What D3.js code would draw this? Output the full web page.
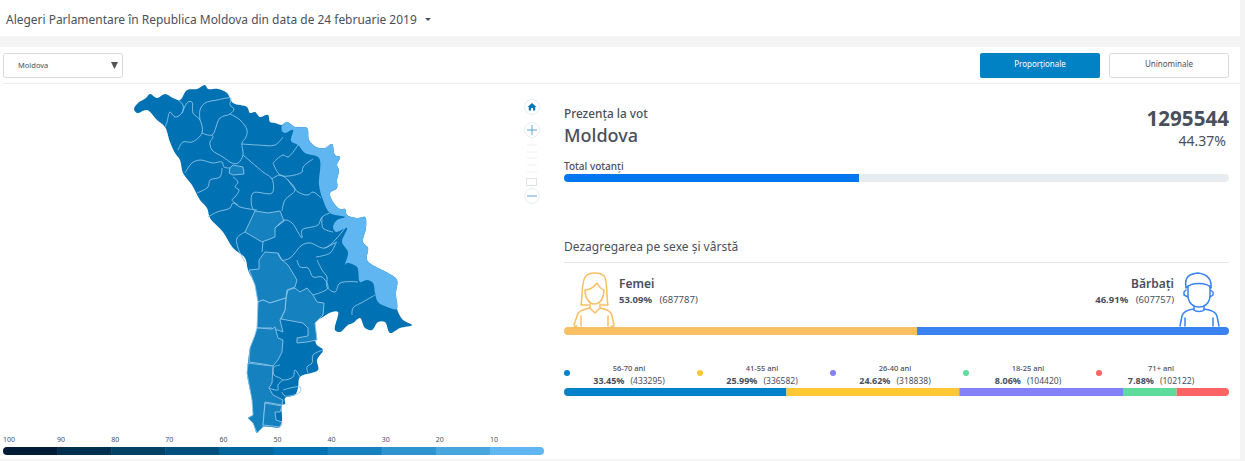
<!DOCTYPE html>
<html lang="ro">
<head>
<meta charset="UTF-8">
<title>Alegeri Parlamentare</title>
<script src="https://d3js.org/d3.v7.min.js"></script>
<style>
*{padding:0;margin:0;box-sizing:border-box;}
body{background:#fff;overflow:hidden;}
text{font-family:"Noto Sans","Open Sans",sans-serif;fill:#4a4f5c;}
.border{fill:none;stroke:#8cc5ea;stroke-width:.9;stroke-linejoin:round;}
.icon{fill:none;stroke-width:1.5;stroke-linecap:round;stroke-linejoin:round;}
</style>
</head>
<body>
<script>
// values
const title = "Alegeri Parlamentare în Republica Moldova din data de 24 februarie 2019";
const turnoutPct = 44.37, turnoutVotes = 1295544;
const genderNames = ["Femei", "Bărbaţi"];
const genderPct = [53.09, 46.91];
const genderVotes = [687787, 607757];
const genderColors = ["#f9bf63", "#3a82f0"];
const ageNames = ["56-70 ani", "41-55 ani", "26-40 ani", "18-25 ani", "71+ ani"];
const agePct = [33.45, 25.99, 24.62, 8.06, 7.88];
const ageVotes = [433295, 336582, 318838, 104420, 102122];
const ageColors = ["#0082c8", "#ffc733", "#8480f7", "#5fdc9b", "#fa6464"];
const legendTicks = [100, 90, 80, 70, 60, 50, 40, 30, 20, 10];
const legendColors = ["#001c36", "#00304f", "#004166", "#004f7f", "#00669c", "#0071b2", "#1581bf", "#2e94d0", "#47a6dc", "#5fb6f0"];

// map outlines traced by hand, in trace units
const countryOutline = [[134,109],[138,103],[146,98],[150,94],[157,98],[165,94],[173,98],[180,100],[187,90],[197,89],[205,85],[208,89],[218,89],[227,93],[233,103],[247,107],[250,113],[255,112],[260,117],[268,115],[270,122],[275,123],[282,125],[287,122],[295,127],[307,128],[309,140],[316,147],[325,148],[332,144],[335,155],[340,157],[337,165],[339,170],[337,180],[337,188],[330,193],[333,202],[340,209],[345,209],[347,215],[358,218],[365,217],[366,228],[363,242],[368,248],[367,260],[378,268],[388,273],[397,280],[396,293],[397,309],[403,320],[412,325],[400,328],[390,333],[385,322],[378,322],[372,330],[365,328],[360,318],[353,323],[348,325],[340,332],[335,330],[338,312],[332,312],[323,317],[315,323],[315,340],[317,345],[323,350],[317,360],[318,370],[300,377],[298,388],[295,395],[285,398],[285,404],[282,405],[282,420],[280,427],[263,427],[257,433],[253,423],[248,418],[253,415],[252,400],[247,373],[248,363],[250,348],[257,330],[258,302],[255,285],[248,270],[245,258],[233,248],[223,232],[210,218],[207,208],[200,200],[192,185],[183,173],[180,160],[175,153],[170,142],[165,127],[157,120],[147,110],[137,113]];
const transnistria = [[282,125],[287,122],[295,127],[307,128],[309,140],[316,147],[325,148],[332,144],[335,155],[340,157],[337,165],[339,170],[337,180],[337,188],[330,193],[333,202],[340,209],[345,209],[347,215],[358,218],[365,217],[366,228],[363,242],[368,248],[367,260],[378,268],[388,273],[397,280],[396,293],[397,309],[387,307],[378,302],[375,293],[373,283],[367,280],[360,282],[357,267],[347,263],[345,265],[348,252],[342,242],[347,228],[336,232],[333,227],[337,220],[345,217],[330,213],[323,200],[319,185],[319,158],[305,153],[298,145],[291,141],[293,130],[285,133],[282,131]];
const midRegions = [
  [[255,211],[268,213],[280,211],[284,221],[275,228],[275,237],[262,242],[245,232]],
  [[230,168],[233,165],[243,167],[244,174],[233,175],[229,173]],
  [[249,270],[259,269],[259,260],[265,252],[278,253],[282,260],[288,265],[297,280],[295,287],[287,290],[286,298],[270,303],[263,300],[258,302],[255,285]],
  [[288,290],[295,288],[300,292],[307,288],[313,295],[317,302],[324,303],[323,315],[315,323],[317,340],[307,342],[297,343],[297,338],[308,336],[308,328],[303,323],[281,319],[285,310],[286,298]],
  [[258,302],[263,300],[270,303],[286,298],[285,310],[280,320],[283,332],[278,330],[273,330],[272,328],[257,328]],
  [[257,328],[272,329],[275,327],[278,338],[283,340],[282,352],[278,360],[273,366],[263,364],[249,362],[250,348],[255,335]],
  [[248,363],[263,365],[273,366],[272,383],[269,388],[273,395],[283,400],[282,405],[265,402],[263,427],[257,433],[253,423],[248,418],[253,415],[252,400],[247,373]],
  [[265,403],[282,406],[280,412],[275,412],[276,420],[282,422],[280,427],[263,425]]
];
const borders = [
  [[178,100],[183,105],[182,113],[175,117],[170,112],[167,122],[165,127]],
  [[182,113],[188,102],[192,102],[193,113],[200,120],[202,133],[192,142],[183,142],[178,150]],
  [[200,120],[200,110],[205,103],[217,100],[227,98],[231,98],[230,105],[234,109],[230,114],[220,118],[212,135],[202,133]],
  [[230,114],[240,120],[247,130],[246,137],[242,143],[243,155],[238,163],[232,163],[223,157],[212,150],[210,142],[213,137],[212,135]],
  [[185,173],[192,163],[200,160],[213,163],[222,162],[224,167],[230,168]],
  [[222,168],[220,177],[210,180],[208,187],[197,193]],
  [[233,177],[238,182],[235,187],[239,190],[235,197],[232,200],[238,205]],
  [[208,217],[217,212],[230,208],[233,203],[240,207],[257,210]],
  [[242,144],[258,145],[275,145],[283,137]],
  [[243,155],[263,172],[272,179],[272,193],[253,193],[252,207],[255,211]],
  [[272,179],[280,175],[288,180],[295,190],[285,200],[282,211]],
  [[273,163],[283,155],[288,157],[298,145]],
  [[273,163],[280,175],[289,176],[302,172],[303,167],[313,159]],
  [[288,180],[298,192],[308,195],[313,192],[321,198]],
  [[275,228],[285,220],[292,223],[302,238],[302,230],[318,225],[322,217],[330,213]],
  [[322,217],[323,228],[333,232]],
  [[263,242],[262,252]],
  [[278,253],[282,260],[290,258],[302,245],[310,243],[325,248],[345,228]],
  [[325,248],[337,242]],
  [[316,257],[330,253],[336,243]],
  [[245,232],[237,238],[238,248],[245,262]],
  [[297,260],[300,267],[308,268],[313,277],[322,277],[328,288],[313,295]],
  [[317,260],[322,270],[327,277],[327,287],[335,292],[340,283],[358,282]],
  [[375,295],[363,302],[353,308],[352,315]],
  [[280,365],[274,367],[274,375],[280,378],[283,380],[293,377],[295,370],[300,377]],
  [[283,380],[278,385],[278,390],[269,388]],
  [[283,390],[300,387],[300,392],[285,396],[282,392]],
  [[323,350],[313,355],[312,363],[307,367],[308,373]]
];

const svg = d3.select("body").append("svg").attr("width", 1245).attr("height", 461);

// page furniture
svg.append("rect").attr("width", 1245).attr("height", 461).attr("fill", "#fff");
svg.append("rect").attr("y", 36).attr("width", 1245).attr("height", 11).attr("fill", "#f4f4f4");
svg.append("rect").attr("x", 1240).attr("width", 5).attr("height", 461).attr("fill", "#f4f4f4");
svg.append("rect").attr("y", 459).attr("width", 1245).attr("height", 2).attr("fill", "#f4f4f4");
svg.append("rect").attr("width", 1240).attr("height", 36).attr("fill", "#fff");
svg.append("line").attr("x1", 3).attr("x2", 1240).attr("y1", 83.5).attr("y2", 83.5).attr("stroke", "#ececec");

svg.append("text").text(title).attr("x", 6).attr("y", 24).attr("font-size", 11.96);
svg.append("path").attr("d", "M425,18h6l-3,3z").attr("fill", "#4a4f5c");

// select and buttons
svg.append("rect").attr("x", 3.5).attr("y", 53.5).attr("width", 119).attr("height", 24).attr("rx", 2).attr("fill", "#fff").attr("stroke", "#d8d8d8");
svg.append("text").text("Moldova").attr("x", 18).attr("y", 68).attr("font-size", 7.5);
svg.append("path").attr("d", "M111,62h7l-3.5,7z").attr("fill", "#555");
svg.append("rect").attr("x", 980).attr("y", 53).attr("width", 120).attr("height", 25).attr("rx", 2).attr("fill", "#0082c4");
svg.append("text").text("Proporţionale").attr("x", 1040).attr("y", 67).attr("text-anchor", "middle").attr("font-size", 8).style("fill", "#fff");
svg.append("rect").attr("x", 1109.5).attr("y", 53.5).attr("width", 119).attr("height", 24).attr("rx", 2).attr("fill", "#fff").attr("stroke", "#d8d8d8");
svg.append("text").text("Uninominale").attr("x", 1169).attr("y", 67).attr("text-anchor", "middle").attr("font-size", 8);

// map
const mapX = d3.scaleLinear().domain([130, 420]).range([130, 420]);
const mapY = d3.scaleLinear().domain([80, 440]).range([80, 440]);
const line = d3.line().x(d => mapX(d[0])).y(d => mapY(d[1])).curve(d3.curveCatmullRom.alpha(.5));
const area = d3.line().x(d => mapX(d[0])).y(d => mapY(d[1])).curve(d3.curveCatmullRomClosed.alpha(.5));
const poly = d3.line().x(d => mapX(d[0])).y(d => mapY(d[1])).curve(d3.curveLinearClosed);
const gMap = svg.append("g");
gMap.append("path").attr("d", area(countryOutline)).attr("fill", "#0071b2");
gMap.selectAll(".mid").data(midRegions).enter().append("path")
  .attr("class", "mid border").attr("d", poly).style("fill", "#1581bf");
gMap.append("path").attr("d", area(transnistria)).attr("fill", "#5fb6f0");
gMap.selectAll(".b").data(borders).enter().append("path")
  .attr("class", "b border").attr("d", line);

// zoom control
const zoomBtn = svg.append("g");
[107, 130, 196].forEach(cy => zoomBtn.append("circle").attr("cx", 532).attr("cy", cy).attr("r", 7.5).attr("fill", "#fff").attr("stroke", "#e6eef4"));
zoomBtn.append("path").attr("d", "M532,103l4.5,4h-1.3v3.5h-2.2v-2.4h-2v2.4h-2.2v-3.5h-1.3z").attr("fill", "#0a78b8");
zoomBtn.append("path").attr("d", "M527,130h10M532,125v10M527,196h10").attr("stroke", "#5aa4d2").attr("fill", "none");
[145, 152, 158, 165, 172].forEach(y => zoomBtn.append("line").attr("x1", 527).attr("x2", 537).attr("y1", y).attr("y2", y).attr("stroke", "#f0f0f0"));
zoomBtn.append("rect").attr("x", 526.5).attr("y", 178.5).attr("width", 10).attr("height", 7).attr("fill", "#fff").attr("stroke", "#e2e2e2");

// colour legend
const legendX = d3.scaleBand().domain(legendTicks).range([3, 544]);
svg.append("clipPath").attr("id", "legendClip").append("rect").attr("x", 3).attr("y", 447).attr("width", 541).attr("height", 8).attr("rx", 4);
svg.append("g").attr("clip-path", "url(#legendClip)").selectAll("rect").data(legendTicks).enter().append("rect")
  .attr("x", d => legendX(d)).attr("y", 447).attr("width", legendX.bandwidth() + .5).attr("height", 8)
  .attr("fill", (d, i) => legendColors[i]);
svg.selectAll(".lt").data(legendTicks).enter().append("text").attr("class", "lt")
  .text(d => d).attr("x", d => legendX(d)).attr("y", 442).attr("font-size", 7);

// right panel
const barX = d3.scaleLinear().domain([0, 100]).range([564, 1229]);
const stacked = (vals, y, colors, id) => {
  svg.append("clipPath").attr("id", id).append("rect").attr("x", barX(0)).attr("y", y).attr("width", barX(100) - barX(0)).attr("height", 8).attr("rx", 4);
  const g = svg.append("g").attr("clip-path", "url(#" + id + ")");
  let sum = 0;
  vals.forEach((v, i) => {
    g.append("rect").attr("x", barX(sum)).attr("y", y).attr("width", barX(v) - barX(0)).attr("height", 8).attr("fill", colors[i]);
    sum += v;
  });
};

svg.append("text").text("Prezenţa la vot").attr("x", 564).attr("y", 118).attr("font-size", 11.8).attr("font-weight", 500);
svg.append("text").text("Moldova").attr("x", 564).attr("y", 142).attr("font-size", 18).attr("font-weight", 500);
svg.append("text").text(turnoutVotes).attr("x", 1229).attr("y", 126).attr("text-anchor", "end").attr("font-size", 20.6).attr("font-weight", 700);
svg.append("text").text(turnoutPct + "%").attr("x", 1226).attr("y", 146).attr("text-anchor", "end").attr("font-size", 14);
svg.append("text").text("Total votanţi").attr("x", 564).attr("y", 170).attr("font-size", 10).attr("font-weight", 500);
stacked([turnoutPct, 100 - turnoutPct], 174, ["#0077f0", "#e9ecef"], "turnoutClip");

svg.append("text").text("Dezagregarea pe sexe şi vârstă").attr("x", 564).attr("y", 251).attr("font-size", 12);
svg.append("line").attr("x1", 564).attr("x2", 1229).attr("y1", 262.5).attr("y2", 262.5).attr("stroke", "#e6e6e6");

// person icons
const woman = svg.append("g").attr("class", "icon").attr("stroke", genderColors[0]);
woman.append("path").attr("d", "M581,305C583,296 581,280 586,276C590,272 600,272 604,276C608,280 606,296 608,305H601M588,305H581");
woman.append("path").attr("d", "M585,290C589,290 594,287 597,283C599,287 601,289 604,290C604,298 600,304 594.5,304C589,304 585,298 585,290Z");
woman.append("path").attr("d", "M590,304V308L595,313L600,308V304M590,308C582,310 578,311 577,316L574,325C574,327 576,326 577,326M600,308C608,310 611,311 612,316L614,325C614,327 612,326 611,326M581,316V326M608,316V326");
const man = svg.append("g").attr("class", "icon").attr("stroke", genderColors[1]);
man.append("path").attr("d", "M1186,288C1184,276 1190,274 1198,273C1206,274 1212,278 1211,288C1207,282 1191,282 1186,288Z");
man.append("path").attr("d", "M1188,286V295C1188,303 1193,307 1199,307C1205,307 1210,303 1210,295V286M1186,290L1184,292V295L1188,297M1210,290L1213,292V295L1210,297");
man.append("path").attr("d", "M1194,306V310C1196,312 1202,312 1204,310V306M1194,309C1186,310 1183,312 1182,316L1180,326M1204,309C1212,310 1216,312 1217,316L1219,326M1185,318V326M1213,318V326");

svg.append("text").text(genderNames[0]).attr("x", 619).attr("y", 288).attr("font-size", 12).attr("font-weight", 600);
const femLine = svg.append("text").attr("x", 619).attr("y", 303).attr("font-size", 9.5);
femLine.append("tspan").text(genderPct[0] + "%").attr("font-weight", 700);
femLine.append("tspan").text("  (" + genderVotes[0] + ")").attr("dx", 5);
svg.append("text").text(genderNames[1]).attr("x", 1174).attr("y", 288).attr("text-anchor", "end").attr("font-size", 12).attr("font-weight", 600);
const manLine = svg.append("text").attr("x", 1174).attr("y", 303).attr("text-anchor", "end").attr("font-size", 9.5);
manLine.append("tspan").text(genderPct[1] + "%").attr("font-weight", 700);
manLine.append("tspan").text("  (" + genderVotes[1] + ")").attr("dx", 5);
stacked(genderPct, 327, genderColors, "genderClip");

// age groups
const ageCol = d3.scaleBand().domain(ageNames).range([564, 1229]);
const ages = svg.selectAll(".age").data(ageNames).enter().append("g").attr("class", "age")
  .attr("transform", d => "translate(" + ageCol(d) + ",0)");
ages.append("circle").attr("cx", 3).attr("cy", 373).attr("r", 3).attr("fill", (d, i) => ageColors[i]);
ages.append("text").text(d => d).attr("x", 65).attr("y", 371).attr("text-anchor", "middle").attr("font-size", 7.5).attr("font-weight", 500);
const ageLine = ages.append("text").attr("x", 65).attr("y", 384).attr("text-anchor", "middle").attr("font-size", 9);
ageLine.append("tspan").text((d, i) => agePct[i] + "%").attr("font-weight", 700);
ageLine.append("tspan").text((d, i) => "(" + ageVotes[i] + ")").attr("dx", 6).attr("font-size", 8.5);
stacked(agePct, 388, ageColors, "ageClip");
</script>
</body>
</html>
